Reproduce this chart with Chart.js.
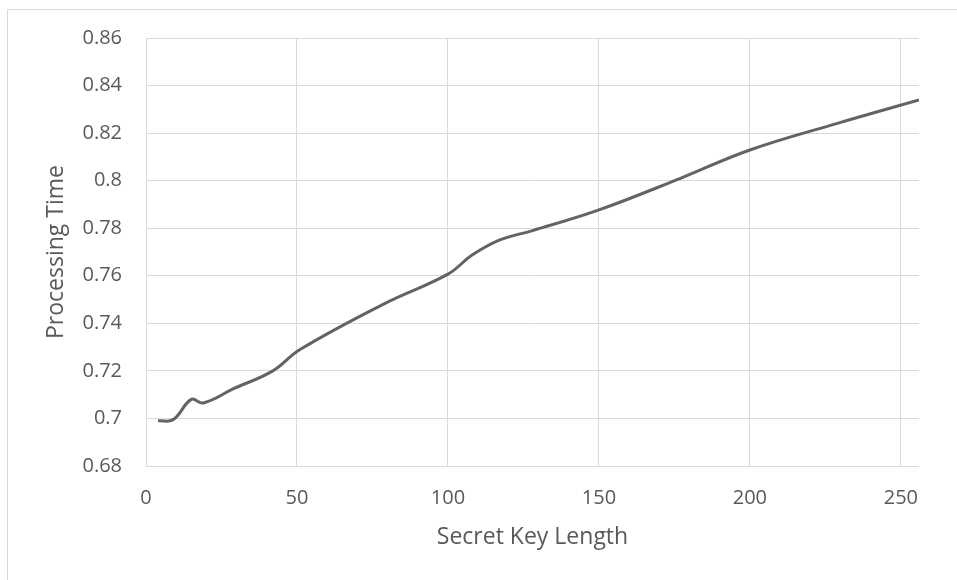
<!DOCTYPE html>
<html>
<head>
<meta charset="utf-8">
<script src="https://cdn.jsdelivr.net/npm/chart.js@4.4.0/dist/chart.umd.min.js"></script>
<style>
  body { margin: 0; background: #fff; }
  #wrap { position: relative; width: 957px; height: 580px; }
  #frame { position: absolute; left: 7px; top: 9px; width: 1000px; height: 1000px;
           border-left: 1px solid #d9d9d9; border-top: 1px solid #d9d9d9; }
</style>
</head>
<body>
<div id="wrap">
  <div id="frame"></div>
  <canvas id="keyChart" width="957" height="580"></canvas>
</div>
<script>
// 차트 데이터
const keyLength = [4, 9, 15, 19, 29, 42, 51, 79, 100, 108, 117, 128, 150, 177, 200, 229, 256];
const procTime = [0.699, 0.6995, 0.708, 0.7065, 0.7125, 0.720, 0.729, 0.7483, 0.7607,
                  0.7687, 0.775, 0.779, 0.7877, 0.801, 0.8129, 0.8241, 0.8339];
const xTitle = 'Secret Key Length';
const yTitle = 'Processing Time';

const points = [];
for (let i = 0; i < keyLength.length; i++) {
    points.push({ x: keyLength[i], y: procTime[i] });
}

const tickFont = { family: 'Open Sans', size: 20 };
const titleFont = { family: 'Open Sans', size: 23 };
const gridColor = '#d9d9d9';
const textColor = '#595959';

new Chart(document.getElementById('keyChart'), {
    type: 'line',
    data: {
        datasets: [{
            data: points,
            borderColor: '#636363',
            borderWidth: 3,
            pointRadius: 0,
            tension: 0.4,
            fill: false
        }]
    },
    options: {
        responsive: false,
        animation: false,
        layout: { padding: { top: 38, right: 38, left: 0, bottom: 0 } },
        plugins: {
            legend: { display: false },
            tooltip: { enabled: false }
        },
        scales: {
            x: {
                type: 'linear',
                min: 0,
                max: 256,
                border: { display: false },
                grid: { color: gridColor, lineWidth: 1, drawTicks: false },
                ticks: {
                    stepSize: 50,
                    includeBounds: false,
                    padding: 20,
                    color: textColor,
                    font: tickFont,
                    maxRotation: 0
                },
                title: {
                    display: true,
                    text: xTitle,
                    color: textColor,
                    font: titleFont,
                    padding: { top: 0, bottom: 29 }
                },
                afterFit: function(scale) { scale.height = 114; }
            },
            y: {
                min: 0.68,
                max: 0.86,
                border: { display: false },
                grid: { color: gridColor, lineWidth: 1, drawTicks: false },
                ticks: {
                    stepSize: 0.02,
                    padding: 24,
                    color: textColor,
                    font: tickFont,
                    callback: v => String(+v.toFixed(2))
                },
                title: {
                    display: true,
                    text: yTitle,
                    color: textColor,
                    font: titleFont,
                    padding: { top: 43, bottom: 0 }
                },
                afterFit: function(scale) { scale.width = 146; }
            }
        }
    }
});
</script>
</body>
</html>
